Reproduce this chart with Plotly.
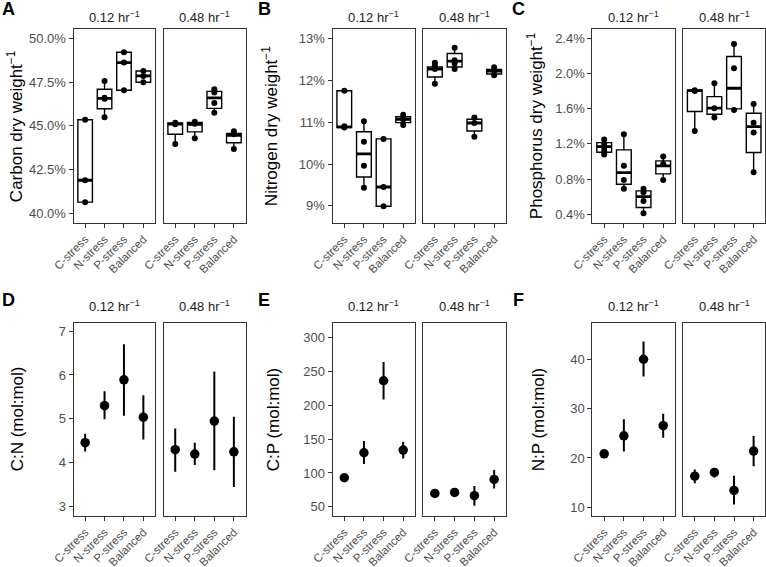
import plotly.graph_objects as go

# ---------------- data ----------------
categories = ["C-stress", "N-stress", "P-stress", "Balanced"]
growth_rates = ["0.12 hr<sup>−1</sup>", "0.48 hr<sup>−1</sup>"]

# Box panels: points per category, box stats per category = [lower, q1, median, q3, upper]
carbon_pts_012 = [[45.35, 41.9, 40.65], [47.56, 46.6, 46.55, 45.49], [49.2, 48.61, 47.03], [48.13, 47.85, 47.49]]
carbon_box_012 = [[40.65, 40.65, 41.9, 45.35, 45.35], [45.49, 45.98, 46.57, 47.09, 47.56],
                  [47.03, 47.03, 48.61, 49.2, 49.2], [47.49, 47.49, 47.85, 48.13, 48.13]]
carbon_pts_048 = [[45.18, 45.1, 43.96], [45.24, 45.12, 44.29], [47.09, 46.9, 46.3, 45.75], [44.7, 44.53, 43.68]]
carbon_box_048 = [[43.96, 44.52, 45.1, 45.17, 45.18], [44.29, 44.66, 45.09, 45.2, 45.26],
                  [45.75, 46.0, 46.6, 46.97, 47.09], [43.68, 44.04, 44.46, 44.57, 44.7]]

nitrogen_pts_012 = [[11.75, 10.9, 10.87], [11.02, 10.53, 9.96, 9.43], [10.6, 9.45, 8.99], [11.18, 11.07, 10.93]]
nitrogen_box_012 = [[10.87, 10.87, 10.89, 11.75, 11.75], [9.43, 9.69, 10.24, 10.77, 11.02],
                    [8.99, 8.99, 9.45, 10.6, 10.6], [10.93, 10.99, 11.07, 11.13, 11.18]]
nitrogen_pts_048 = [[12.42, 12.35, 12.27, 11.92], [12.78, 12.48, 12.4, 12.27], [11.11, 10.98, 10.65], [12.31, 12.23, 12.12]]
nitrogen_box_048 = [[11.92, 12.08, 12.27, 12.32, 12.42], [12.27, 12.32, 12.46, 12.64, 12.78],
                    [10.65, 10.79, 10.98, 11.07, 11.11], [12.12, 12.15, 12.22, 12.26, 12.31]]

phosphorus_pts_012 = [[1.25, 1.2, 1.16, 1.12, 1.08], [1.31, 0.95, 0.79, 0.69], [0.688, 0.65, 0.55, 0.41], [1.055, 0.97, 0.79]]
phosphorus_box_012 = [[1.074, 1.105, 1.169, 1.214, 1.252], [0.69, 0.74, 0.873, 1.131, 1.31],
                      [0.411, 0.476, 0.60, 0.665, 0.688], [0.79, 0.858, 0.949, 1.006, 1.055]]
phosphorus_pts_048 = [[1.81, 1.80, 1.347], [1.889, 1.605, 1.498], [2.336, 2.06, 1.586], [1.654, 1.44, 1.33, 0.877]]
phosphorus_box_048 = [[1.347, 1.567, 1.805, 1.813, 1.815], [1.498, 1.536, 1.605, 1.737, 1.889],
                      [1.586, 1.597, 1.832, 2.192, 2.336], [0.877, 1.101, 1.396, 1.548, 1.654]]

# Point-range panels: [mean, lower, upper] per category
cn_012 = [[4.46, 4.26, 4.66], [5.30, 4.99, 5.63], [5.89, 5.07, 6.70], [5.04, 4.53, 5.54]]
cn_048 = [[4.30, 3.80, 4.78], [4.20, 3.95, 4.46], [4.95, 3.83, 6.08], [4.25, 3.45, 5.05]]
cp_012 = [[92.9, 90.0, 95.9], [129.9, 113.1, 147.1], [236.4, 208.8, 264.0], [133.8, 121.5, 146.2]]
cp_048 = [[69.7, 65.8, 73.2], [71.2, 68.2, 74.2], [66.3, 51.5, 80.6], [90.4, 77.1, 104.2]]
np_012 = [[20.85, 20.45, 21.3], [24.5, 21.33, 27.85], [40.07, 36.54, 43.67], [26.56, 24.1, 29.0]]
np_048 = [[16.3, 14.88, 17.67], [17.05, 16.04, 17.94], [13.39, 10.54, 16.37], [21.4, 18.34, 24.45]]

carbon_ticks = [40.0, 42.5, 45.0, 47.5, 50.0]
nitrogen_ticks = [9, 10, 11, 12, 13]
phosphorus_ticks = [0.4, 0.8, 1.2, 1.6, 2.0, 2.4]
cn_ticks = [3, 4, 5, 6, 7]
cp_ticks = [50, 100, 150, 200, 250, 300]
np_ticks = [10, 20, 30, 40]

# ---------------- layout / style ----------------
W, H = 766, 567
FONT = "Liberation Sans, Arial, Helvetica, sans-serif"
BORDER = "#333333"
TICKCOL = "#4D4D4D"
YTICK_SIZE = 13
XTICK_SIZE = 11.5
STRIP_SIZE = 13
TITLE_SIZE = 17

col_facets = [[(73.5, 155.0), (163.5, 245.6)],
              [(332.5, 415.0), (423.0, 506.0)],
              [(592.4, 675.0), (683.0, 765.4)]]
row_y = [(29.3, 223.0), (322.7, 516.0)]
col_letter_x = [8.5, 264, 518]
row_title_x = [[15, 270, 535], [17, 273, 538]]
row_letter_y = [9, 300]
row_strip_y = [17, 305.5]

panels = [
    dict(letter="A", row=0, col=0, kind="box", pts=[carbon_pts_012, carbon_pts_048], box=[carbon_box_012, carbon_box_048],
         yrange=[39.46, 50.51], ticks=carbon_ticks, fmt="{:.1f}%", title="Carbon dry weight<sup>−1</sup>"),
    dict(letter="B", row=0, col=1, kind="box", pts=[nitrogen_pts_012, nitrogen_pts_048], box=[nitrogen_box_012, nitrogen_box_048],
         yrange=[8.59, 13.22], ticks=nitrogen_ticks, fmt="{:.0f}%", title="Nitrogen dry weight<sup>−1</sup>"),
    dict(letter="C", row=0, col=2, kind="box", pts=[phosphorus_pts_012, phosphorus_pts_048], box=[phosphorus_box_012, phosphorus_box_048],
         yrange=[0.30, 2.502], ticks=phosphorus_ticks, fmt="{:.1f}%", title="Phosphorus dry weight<sup>−1</sup>"),
    dict(letter="D", row=1, col=0, kind="range", vals=[cn_012, cn_048],
         yrange=[2.79, 7.19], ticks=cn_ticks, fmt="{:.0f}", title="C:N (mol:mol)"),
    dict(letter="E", row=1, col=1, kind="range", vals=[cp_012, cp_048],
         yrange=[36.3, 322.3], ticks=cp_ticks, fmt="{:.0f}", title="C:P (mol:mol)"),
    dict(letter="F", row=1, col=2, kind="range", vals=[np_012, np_048],
         yrange=[8.2, 47.5], ticks=np_ticks, fmt="{:.0f}", title="N:P (mol:mol)"),
]

BOX_W = 0.75
positions = [i + 1 for i in range(len(categories))]

fig = go.Figure()
layout = {}
annotations = []
ax = 0
for p in panels:
    y0, y1 = row_y[p["row"]]
    for f in range(2):
        ax += 1
        xname = "xaxis" if ax == 1 else f"xaxis{ax}"
        yname = "yaxis" if ax == 1 else f"yaxis{ax}"
        xref = "x" if ax == 1 else f"x{ax}"
        yref = "y" if ax == 1 else f"y{ax}"
        fx0, fx1 = col_facets[p["col"]][f]
        layout[xname] = dict(
            domain=[fx0 / W, fx1 / W], anchor=yref, range=[0.4, 4.6], automargin=False,
            tickmode="array", tickvals=positions, ticktext=categories, tickangle=-45,
            ticks="outside", ticklen=4, tickwidth=1, tickcolor=BORDER,
            showline=True, mirror=True, linecolor=BORDER, linewidth=1,
            showgrid=False, zeroline=False,
            tickfont=dict(family=FONT, size=XTICK_SIZE, color=TICKCOL),
        )
        layout[yname] = dict(
            domain=[1 - y1 / H, 1 - y0 / H], anchor=xref, range=p["yrange"], automargin=False,
            tickmode="array", tickvals=p["ticks"], ticktext=[p["fmt"].format(v) for v in p["ticks"]],
            ticks="outside" if f == 0 else "", ticklen=4, tickwidth=1, tickcolor=BORDER,
            showticklabels=(f == 0),
            showline=True, mirror=True, linecolor=BORDER, linewidth=1,
            showgrid=False, zeroline=False,
            tickfont=dict(family=FONT, size=YTICK_SIZE, color=TICKCOL),
        )

        if p["kind"] == "box":
            stats = p["box"][f]
            fig.add_trace(go.Box(
                x=positions,
                lowerfence=[s[0] for s in stats], q1=[s[1] for s in stats], median=[s[2] for s in stats],
                q3=[s[3] for s in stats], upperfence=[s[4] for s in stats],
                width=BOX_W, whiskerwidth=0, fillcolor="white", boxpoints=False,
                line=dict(color="black", width=1.4), xaxis=xref, yaxis=yref, hoverinfo="skip",
            ))
            mx, my = [], []
            for pos, s in zip(positions, stats):
                mx += [pos - BOX_W / 2, pos + BOX_W / 2, None]
                my += [s[2], s[2], None]
            fig.add_trace(go.Scatter(x=mx, y=my, mode="lines", line=dict(color="black", width=2.8),
                                     xaxis=xref, yaxis=yref, hoverinfo="skip"))
            px, py = [], []
            for pos, pts in zip(positions, p["pts"][f]):
                px += [pos] * len(pts)
                py += pts
            fig.add_trace(go.Scatter(x=px, y=py, mode="markers", marker=dict(color="black", size=6),
                                     xaxis=xref, yaxis=yref, hoverinfo="skip"))
        else:
            vals = p["vals"][f]
            fig.add_trace(go.Scatter(
                x=positions, y=[v[0] for v in vals], mode="markers",
                marker=dict(color="black", size=9.5),
                error_y=dict(type="data", symmetric=False,
                             array=[v[2] - v[0] for v in vals], arrayminus=[v[0] - v[1] for v in vals],
                             width=0, thickness=2, color="black"),
                xaxis=xref, yaxis=yref, hoverinfo="skip",
            ))

        # strip label
        annotations.append(dict(
            text=growth_rates[f], x=(fx0 + fx1) / 2 / W, y=1 - row_strip_y[p["row"]] / H,
            xref="paper", yref="paper", xanchor="center", yanchor="middle", showarrow=False,
            font=dict(family=FONT, size=STRIP_SIZE, color="#1A1A1A"),
        ))

    # y-axis title
    annotations.append(dict(
        text=p["title"], x=row_title_x[p["row"]][p["col"]] / W, y=1 - (y0 + y1) / 2 / H,
        xref="paper", yref="paper", xanchor="center", yanchor="middle", textangle=-90, showarrow=False,
        font=dict(family=FONT, size=TITLE_SIZE, color="black"),
    ))
    # panel letter
    annotations.append(dict(
        text="<b>" + p["letter"] + "</b>", x=col_letter_x[p["col"]] / W, y=1 - row_letter_y[p["row"]] / H,
        xref="paper", yref="paper", xanchor="center", yanchor="middle", showarrow=False,
        font=dict(family=FONT, size=18, color="black"),
    ))

fig.update_layout(
    width=W, height=H, margin=dict(l=0, r=0, t=0, b=0, autoexpand=False),
    paper_bgcolor="white", plot_bgcolor="white", showlegend=False,
    annotations=annotations, font=dict(family=FONT),
    **layout,
)
fig.write_html("out.html")
